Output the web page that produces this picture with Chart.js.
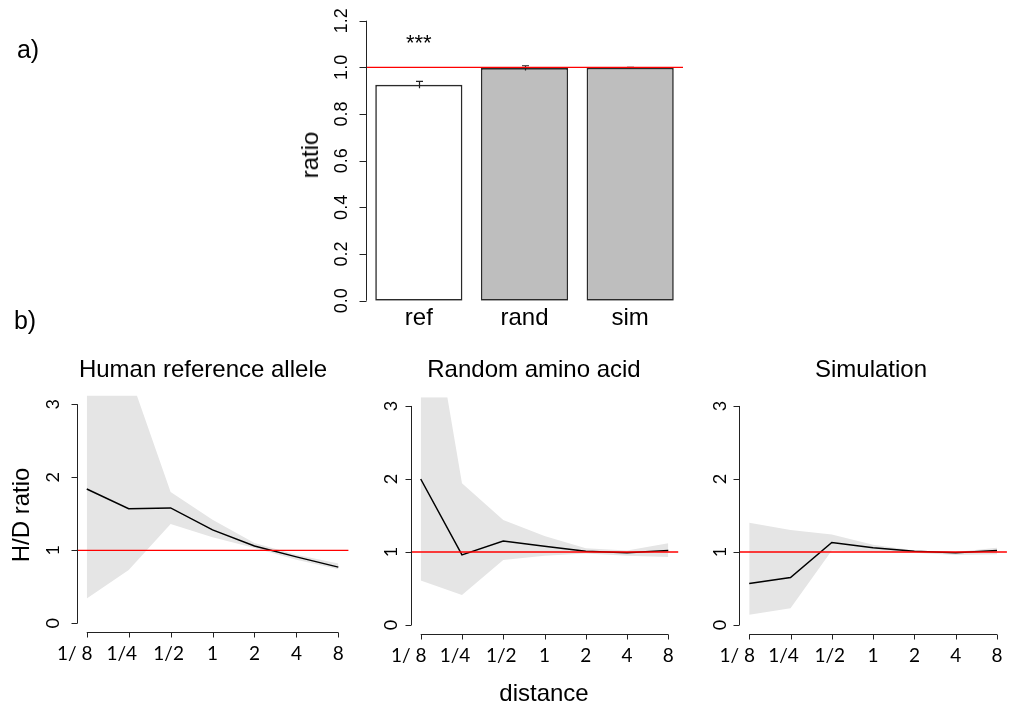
<!DOCTYPE html>
<html>
<head>
<meta charset="utf-8">
<script src="https://cdn.jsdelivr.net/npm/chart.js@4/dist/chart.umd.min.js"></script>
<style>
  body { margin: 0; background: #fff; }
  #wrap { position: relative; width: 1010px; height: 708px; overflow: hidden;
          font-family: "Liberation Sans", Arial, sans-serif; color: #000; }
  canvas { position: absolute; left: 0; top: 0; }
  .lbl { position: absolute; font-size: 24px; line-height: 24px; white-space: nowrap;
         transform: translate(-50%, -50%); }
  .rot { transform: translate(-50%, -50%) rotate(-90deg); }
</style>
</head>
<body>
<div id="wrap">
  <canvas id="barA" width="1010" height="708"></canvas>
  <canvas id="hd1" width="1010" height="708"></canvas>
  <canvas id="hd2" width="1010" height="708"></canvas>
  <canvas id="hd3" width="1010" height="708"></canvas>

  <div class="lbl" style="left:28px;top:49px;font-size:25px">a)</div>
  <div class="lbl" style="left:25px;top:320px;font-size:25px">b)</div>
  <div class="lbl rot" style="left:310px;top:155px">ratio</div>
  <div class="lbl rot" style="left:21px;top:515px">H/D ratio</div>
  <div class="lbl" style="left:203px;top:369px">Human reference allele</div>
  <div class="lbl" style="left:534px;top:369px">Random amino acid</div>
  <div class="lbl" style="left:871px;top:369px">Simulation</div>
  <div class="lbl" style="left:544px;top:693px">distance</div>
</div>

<script>
// panel a
const barCats = ["ref", "rand", "sim"];
const barVals = [0.925, 0.997, 0.998];
const barErr = [0.015, 0.010, 0.002];
const barSig = ["***", "", ""];
const barTicks = [0, 0.2, 0.4, 0.6, 0.8, 1.0, 1.2];

// panel b
const distLabels = ["1/ 8", "1/4", "1/2", "1", "2", "4", "8"];
const hdTicks = [0, 1, 2, 3];
const refValue = 1;

const humanMid = [1.84, 1.57, 1.58, 1.28, 1.06, 0.91, 0.77];
const humanHi  = [4.00, 3.44, 1.80, 1.42, 1.10, 0.94, 0.82];
const humanLo  = [0.34, 0.73, 1.36, 1.18, 1.03, 0.87, 0.74];

const randMid = [2.00, 0.96, 1.15, 1.08, 1.01, 0.99, 1.02];
const randHi  = [5.27, 1.94, 1.44, 1.22, 1.05, 1.02, 1.12];
const randLo  = [0.61, 0.41, 0.89, 0.95, 0.98, 0.95, 0.93];

const simMid = [0.57, 0.65, 1.13, 1.06, 1.01, 0.99, 1.02];
const simHi  = [1.40, 1.30, 1.24, 1.10, 1.02, 1.00, 1.06];
const simLo  = [0.14, 0.23, 1.02, 1.00, 0.99, 0.96, 0.97];

// R style axes: line only between first and last tick
const rAxes = {
  id: "rAxes",
  afterDraw(chart, args, o) {
    const { ctx, chartArea: a, scales: { x, y } } = chart;
    ctx.save();
    ctx.strokeStyle = "#222";
    ctx.fillStyle = "#000";
    ctx.lineWidth = 1;

    const lx = Math.round(a.left) + 0.5;
    ctx.beginPath();
    ctx.moveTo(lx, y.getPixelForValue(o.yTicks[0]));
    ctx.lineTo(lx, y.getPixelForValue(o.yTicks[o.yTicks.length - 1]));
    o.yTicks.forEach(v => {
      const py = Math.round(y.getPixelForValue(v)) + 0.5;
      ctx.moveTo(lx, py);
      ctx.lineTo(lx - o.yTickLen, py);
    });
    ctx.stroke();

    ctx.font = o.yFont;
    ctx.textAlign = "center";
    ctx.textBaseline = "middle";
    o.yTicks.forEach(v => {
      ctx.save();
      ctx.translate(a.left - o.yLabelOffset, y.getPixelForValue(v));
      ctx.rotate(-Math.PI / 2);
      ctx.fillText(o.yFmt(v), 0, 0);
      ctx.restore();
    });

    const n = o.xLabels.length;
    if (o.xAxisLine) {
      const by = Math.round(a.bottom) + 0.5;
      ctx.beginPath();
      ctx.moveTo(x.getPixelForValue(0), by);
      ctx.lineTo(x.getPixelForValue(n - 1), by);
      for (let i = 0; i < n; i++) {
        const px = Math.round(x.getPixelForValue(i)) + 0.5;
        ctx.moveTo(px, by);
        ctx.lineTo(px, by + o.xTickLen);
      }
      ctx.stroke();
    }
    ctx.font = o.xFont;
    o.xLabels.forEach((l, i) => {
      const shift = o.xShift ? o.xShift[i] : 0;
      ctx.fillText(l, x.getPixelForValue(i) + shift, a.bottom + o.xLabelOffset);
    });
    ctx.restore();
  }
};

const refLine = {
  id: "refLine",
  afterDatasetsDraw(chart, args, o) {
    const { ctx, chartArea: a, scales: { y } } = chart;
    const py = y.getPixelForValue(o.value);
    ctx.save();
    ctx.strokeStyle = "#ff0000";
    ctx.lineWidth = 1.3;
    ctx.beginPath();
    ctx.moveTo(a.left, py);
    ctx.lineTo(a.right, py);
    ctx.stroke();
    ctx.restore();
  }
};

const errBars = {
  id: "errBars",
  afterDatasetsDraw(chart, args, o) {
    const { ctx, scales: { x, y } } = chart;
    const vals = chart.data.datasets[0].data;
    ctx.save();
    ctx.strokeStyle = "#222";
    ctx.lineWidth = 1.2;
    vals.forEach((v, i) => {
      const px = Math.round(x.getPixelForValue(i)) + 0.5;
      const top = y.getPixelForValue(v + o.err[i]);
      ctx.beginPath();
      ctx.moveTo(px, y.getPixelForValue(v - o.err[i]));
      ctx.lineTo(px, top);
      ctx.moveTo(px - 3.5, top);
      ctx.lineTo(px + 3.5, top);
      ctx.stroke();
    });
    ctx.font = '22px "Liberation Sans", Arial, sans-serif';
    ctx.fillStyle = "#000";
    ctx.textAlign = "center";
    ctx.textBaseline = "middle";
    o.sig.forEach((s, i) => {
      if (s) ctx.fillText(s, x.getPixelForValue(i), y.getPixelForValue(o.sigAt));
    });
    ctx.restore();
  }
};

function pad(l, t, r, b) {
  return { left: l, top: t, right: 1010 - r, bottom: 708 - b };
}

// a) bar chart
new Chart(document.getElementById("barA"), {
  type: "bar",
  data: {
    labels: barCats,
    datasets: [{
      data: barVals,
      backgroundColor: ["#ffffff", "#bebebe", "#bebebe"],
      borderColor: "#2a2a2a",
      borderWidth: 1.6,
      borderSkipped: false,
      barPercentage: 0.825,
      categoryPercentage: 1
    }]
  },
  options: {
    responsive: false,
    animation: false,
    events: [],
    layout: { padding: pad(366, 20.7, 683, 300.7) },
    scales: {
      x: { display: false },
      y: { display: false, min: 0, max: 1.2 }
    },
    plugins: {
      legend: { display: false },
      tooltip: { enabled: false },
      rAxes: {
        yTicks: barTicks, yFmt: v => v.toFixed(1), yTickLen: 7, yLabelOffset: 24,
        yFont: '18px "Liberation Sans", Arial, sans-serif',
        xLabels: barCats, xAxisLine: false, xLabelOffset: 17.5,
        xFont: '24px "Liberation Sans", Arial, sans-serif'
      },
      refLine: { value: refValue },
      errBars: { err: barErr, sig: barSig, sigAt: 1.1 }
    }
  },
  plugins: [errBars, refLine, rAxes]
});

// b) H/D ratio panels
function hdChart(id, mid, hi, lo, area, yLabelOffset) {
  const pts = arr => arr.map((v, i) => ({ x: i, y: v }));
  new Chart(document.getElementById(id), {
    type: "line",
    data: {
      datasets: [
        { data: pts(mid), borderColor: "#000", borderWidth: 1.5, pointRadius: 0, fill: false, order: 1 },
        { data: pts(hi), borderColor: "rgba(0,0,0,0)", borderWidth: 0, pointRadius: 0,
          fill: "+1", backgroundColor: "#e5e5e5", order: 3 },
        { data: pts(lo), borderColor: "rgba(0,0,0,0)", borderWidth: 0, pointRadius: 0, fill: false, order: 4 }
      ]
    },
    options: {
      responsive: false,
      animation: false,
      events: [],
      layout: { padding: pad(area[0], area[1], area[2], area[3]) },
      scales: {
        x: { type: "linear", display: false, min: -0.24, max: distLabels.length - 1 + 0.24 },
        y: { display: false, min: -0.12, max: 3.12 }
      },
      plugins: {
        legend: { display: false },
        tooltip: { enabled: false },
        rAxes: {
          yTicks: hdTicks, yFmt: v => String(v), yTickLen: 6, yLabelOffset: yLabelOffset,
          yFont: '18px Lato, "Open Sans", sans-serif',
          xLabels: distLabels, xAxisLine: true, xTickLen: 5, xLabelOffset: 22,
          xShift: [-12, -7, -2, 0, 0, 0, 0],
          xFont: '19px Lato, "Open Sans", sans-serif'
        },
        refLine: { value: refValue }
      }
    },
    plugins: [refLine, rAxes]
  });
}

hdChart("hd1", humanMid, humanHi, humanLo, [76.7, 395.5, 348.4, 632.1], 24);
hdChart("hd2", randMid, randHi, randLo, [410.8, 397.2, 678.2, 633.8], 20);
hdChart("hd3", simMid, simHi, simLo, [739.3, 397.2, 1006.9, 633.8], 19);
</script>
</body>
</html>
